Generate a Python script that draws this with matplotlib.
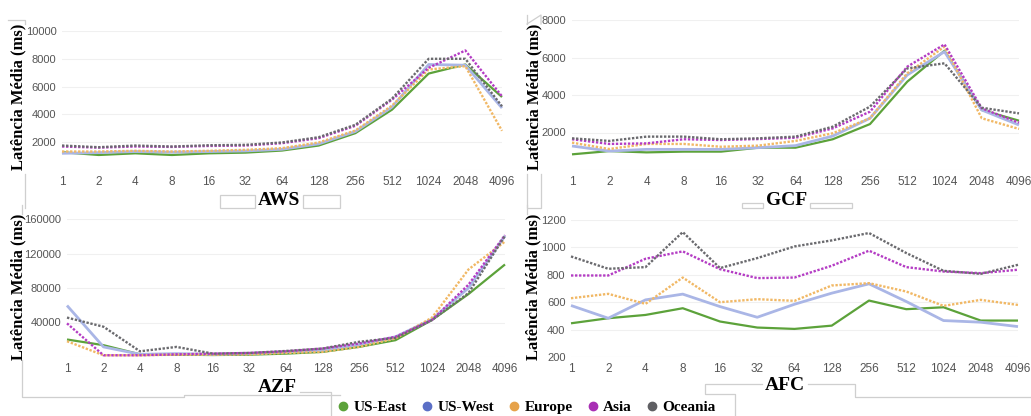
import matplotlib.pyplot as plt
from matplotlib.lines import Line2D
from matplotlib.patches import Rectangle

sizes = ['1', '2', '4', '8', '16', '32', '64', '128', '256', '512', '1024', '2048', '4096']
regions = ['US-East', 'US-West', 'Europe', 'Asia', 'Oceania']

# latência média (ms) por região, um painel por provedor
aws_us_east = [1280, 1080, 1200, 1080, 1200, 1250, 1400, 1760, 2650, 4340, 6940, 7590, 5250]
aws_us_west = [1200, 1250, 1330, 1280, 1330, 1370, 1490, 1880, 2770, 4530, 7590, 7540, 4460]
aws_europe = [1330, 1330, 1380, 1330, 1380, 1450, 1570, 1980, 2840, 4630, 7230, 7470, 2820]
aws_asia = [1690, 1610, 1690, 1660, 1730, 1760, 1930, 2290, 3180, 5060, 7350, 8600, 5300]
aws_oceania = [1760, 1640, 1760, 1690, 1780, 1810, 1980, 2360, 3250, 5130, 8000, 8000, 4580]

gcf_us_east = [835, 1010, 940, 980, 980, 1190, 1190, 1640, 2450, 4710, 6360, 3200, 2630]
gcf_us_west = [1280, 1010, 1100, 1100, 1100, 1190, 1300, 1810, 2760, 5070, 6310, 3200, 2400]
gcf_europe = [1460, 1120, 1390, 1390, 1240, 1300, 1550, 1960, 2760, 5160, 6580, 2760, 2190]
gcf_asia = [1640, 1390, 1420, 1640, 1600, 1650, 1720, 2220, 3110, 5510, 6700, 3290, 2520]
gcf_oceania = [1690, 1550, 1780, 1780, 1640, 1690, 1780, 2310, 3380, 5420, 5690, 3320, 3020]

azf_us_east = [20300, 13700, 3100, 2700, 2300, 2700, 3900, 5900, 11700, 19500, 42900, 73000, 107300]
azf_us_west = [59700, 11700, 3100, 3900, 3100, 3900, 5900, 7800, 14400, 23400, 43700, 80000, 140500]
azf_europe = [18300, 2000, 2000, 2700, 2700, 3100, 4700, 5900, 11700, 21500, 45700, 101500, 133900]
azf_asia = [39000, 2000, 2000, 3100, 3900, 4700, 6600, 9800, 15600, 23400, 42900, 83900, 141300]
azf_oceania = [45700, 35100, 6600, 11700, 3900, 4700, 7000, 9800, 17600, 22200, 42900, 74100, 140500]

afc_us_east = [446, 483, 507, 556, 459, 415, 405, 429, 612, 549, 563, 466, 466]
afc_us_west = [576, 483, 617, 659, 568, 490, 585, 666, 734, 605, 466, 454, 422]
afc_europe = [629, 661, 588, 780, 600, 622, 610, 722, 739, 678, 573, 617, 580]
afc_asia = [795, 795, 917, 971, 841, 776, 780, 866, 976, 856, 824, 812, 837]
afc_oceania = [934, 844, 856, 1112, 849, 922, 1007, 1051, 1105, 959, 829, 807, 873]

legend_colors = ['#5ca23a', '#5b6fc6', '#e6a24a', '#a82fb4', '#5f5f63']
line_styles = [
    dict(color='#5ca23a', lw=1.6, ls='-'),
    dict(color='#aab6e6', lw=2.0, ls='-'),
    dict(color='#f1b865', lw=1.7, ls=(0, (1, 0.7))),
    dict(color='#b43cc4', lw=1.7, ls=(0, (1, 0.7))),
    dict(color='#6a6a6e', lw=1.7, ls=(0, (1, 0.7))),
]

W, H = 1031, 416
fig = plt.figure(figsize=(W / 100, H / 100), dpi=100)

def px_axes(x0, x1, y0, y1):
    return fig.add_axes([x0 / W, 1 - y1 / H, (x1 - x0) / W, (y1 - y0) / H])

panels = [
    ('AWS', (62, 502, 31, 170), [aws_us_east, aws_us_west, aws_europe, aws_asia, aws_oceania],
     (0, 10000), [2000, 4000, 6000, 8000, 10000], (18, 97), (279, 201)),
    ('GCF', (572, 1019, 20, 170), [gcf_us_east, gcf_us_west, gcf_europe, gcf_asia, gcf_oceania],
     (0, 8000), [2000, 4000, 6000, 8000], (534, 97), (787, 201)),
    ('AZF', (67, 505, 219, 357), [azf_us_east, azf_us_west, azf_europe, azf_asia, azf_oceania],
     (0, 160000), [40000, 80000, 120000, 160000], (18, 287), (277, 387)),
    ('AFC', (571, 1018, 220, 357), [afc_us_east, afc_us_west, afc_europe, afc_asia, afc_oceania],
     (200, 1200), [200, 400, 600, 800, 1000, 1200], (533, 287), (785, 385)),
]

grey = '#cfcfcf'

def fig_line(xs, ys):
    fig.add_artist(Line2D([x / W for x in xs], [1 - y / H for y in ys], color=grey, lw=0.9))

def fig_box(x0, y0, x1, y1):
    fig.add_artist(Rectangle((x0 / W, 1 - y1 / H), (x1 - x0) / W, (y1 - y0) / H,
                             fill=False, edgecolor=grey, lw=0.9))

# frames left over from the page layout (broken where the axis labels sit)
fig_line([8, 25, 25], [20, 20, 24])
fig_line([25, 25], [174, 208])
fig_line([527, 541, 541], [24, 15, 24])
fig_line([527, 527], [15, 24])
fig_line([527, 527, 541, 541], [174, 208, 208, 174])
fig_line([22, 22], [205, 214])
fig_line([22, 22, 184, 184, 340], [360, 397, 397, 395, 395])
fig_line([527, 527], [205, 214])
fig_box(220, 195, 255, 208)
fig_box(303, 195, 340, 208)
fig_box(742, 203, 763, 208)
fig_box(810, 203, 852, 208)
fig_line([735, 735, 705, 705, 762], [416, 394, 394, 384, 384])
fig_line([808, 855, 855, 1031], [384, 384, 397, 397])
fig_line([300, 331, 331], [392, 392, 416])

for name, box, series, ylim, yticks, ylab_pos, title_pos in panels:
    ax = px_axes(*box)
    x = range(len(sizes))
    for vals, st in zip(series, line_styles):
        ax.plot(x, vals, clip_on=False, solid_capstyle='butt', dash_capstyle='butt', **st)
    ax.set_xlim(0, len(sizes) - 1)
    ax.set_ylim(*ylim)
    ax.set_xticks(list(x))
    ax.set_xticklabels(sizes)
    ax.set_yticks(yticks)
    ax.axhline(ylim[0], color='#f0f0f0', lw=0.8, zorder=0)
    ax.grid(axis='y', color='#f0f0f0', lw=0.8)
    ax.set_axisbelow(True)
    for s in ax.spines.values():
        s.set_visible(False)
    ax.tick_params(length=0, labelcolor='#555555', pad=4)
    ax.tick_params(axis='x', labelsize=8.5)
    ax.tick_params(axis='y', labelsize=8)
    for lab in ax.get_xticklabels() + ax.get_yticklabels():
        lab.set_family('Liberation Sans')

    fig.text(ylab_pos[0] / W, 1 - ylab_pos[1] / H, 'Latência Média (ms)', rotation=90,
             ha='center', va='center', family='Liberation Serif', weight='bold', fontsize=12)
    fig.text(title_pos[0] / W, 1 - title_pos[1] / H, name, ha='center', va='center',
             family='Liberation Serif', weight='bold', fontsize=14)

handles = [Line2D([], [], ls='none', marker='o', markersize=6, color=c) for c in legend_colors]
fig.legend(handles, regions, loc='center', bbox_to_anchor=(527 / W, 1 - 407 / H), ncol=5,
           frameon=False, handlelength=0.6, handletextpad=0.4, columnspacing=1.0,
           prop=dict(family='Liberation Serif', weight='bold', size=11))

fig.savefig('out.png', dpi=100, facecolor='white')
